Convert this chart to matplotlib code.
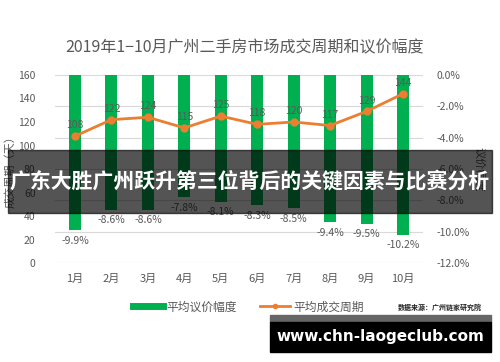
import matplotlib
matplotlib.use("Agg")
import matplotlib.pyplot as plt
from matplotlib.lines import Line2D
from matplotlib.patches import Rectangle

plt.rcParams['font.family'] = ['Noto Sans CJK SC', 'DejaVu Sans']

months = ['1月', '2月', '3月', '4月', '5月', '6月', '7月', '8月', '9月', '10月']
bargain = [-9.9, -8.6, -8.6, -7.8, -8.1, -8.3, -8.5, -9.4, -9.5, -10.2]
cycle = [108, 122, 124, 115, 125, 118, 120, 117, 129, 144]
left_ticks = [0, 20, 40, 60, 80, 100, 120, 140, 160]
right_ticks = [0, -2, -4, -6, -8, -10, -12]

grey = '#595959'
green = '#00B050'
orange = '#ED7D31'

fig = plt.figure(figsize=(5, 3.62), dpi=100)
ax = fig.add_axes([0.11, 0.273, 0.736, 0.52])
ax2 = ax.twinx()
ax.set_zorder(ax2.get_zorder() + 1)
ax.patch.set_visible(False)

x = list(range(len(months)))

# bars hang down from 0% on the right axis
ax2.bar(x, bargain, width=0.33, color=green, zorder=2)
ax2.set_ylim(-12, 0)
ax2.set_yticks(right_ticks)
ax2.set_yticklabels([f'{t:.1f}%' for t in right_ticks])
for xi, v in zip(x, bargain):
    ax2.text(xi, v - 0.35, f'{v}%', ha='center', va='top', fontsize=7.5, color=grey)

ax.plot(x, cycle, color=orange, lw=2.0, marker='o', ms=5, zorder=3)
for xi, v in zip(x, cycle):
    ax.text(xi, v + 5, str(v), ha='center', va='bottom', fontsize=7.5, color=grey)
ax.set_ylim(0, 160)
ax.set_xlim(-0.55, 9.55)
ax.set_yticks(left_ticks)
ax.set_xticks(x)
ax.set_xticklabels(months)

ax2.yaxis.grid(True, color='#d9d9d9', lw=0.8)
ax2.set_axisbelow(True)
for a in (ax, ax2):
    for s in a.spines.values():
        s.set_visible(False)
    a.tick_params(length=0, labelsize=7.5, colors=grey)
ax.tick_params(axis='x', pad=8, labelsize=8)
ax.tick_params(axis='y', pad=14)
ax2.tick_params(axis='y', pad=10)

ax.set_ylabel('成交周期（天）', fontsize=8, color=grey, labelpad=2)
ax2.set_ylabel('议价幅度', fontsize=8, color=grey, rotation=-90, labelpad=10)

fig.text(0.49, 0.868, '2019年1−10月广州二手房市场成交周期和议价幅度',
         ha='center', va='center', fontsize=11.5, color=grey)

handles = [Line2D([], [], color=green, lw=5),
           Line2D([], [], color=orange, lw=2, marker='o', ms=3)]
fig.legend(handles, ['平均议价幅度', '平均成交周期'], loc='center',
           bbox_to_anchor=(0.497, 0.152), ncol=2, frameon=False,
           fontsize=8.5, handlelength=2.5, columnspacing=2.0,
           labelcolor=grey, handletextpad=0.3)
fig.text(0.88, 0.152, '数据来源：广州链家研究院', ha='center', va='center',
         fontsize=5, color='#222222', fontweight='bold')

# overlay banner
fig.patches.append(Rectangle((0.016, 0.412), 0.968, 0.174, transform=fig.transFigure,
                             color='black', alpha=0.67, zorder=10))
fig.text(0.5, 0.5, '广东大胜广州跃升第三位背后的关键因素与比赛分析', ha='center', va='center',
         fontsize=15, color='white', fontweight='bold', zorder=11)

# watermark box
fig.patches.append(Rectangle((0.539, 0.110), 0.443, 0.020, transform=fig.transFigure,
                             color='#666666', zorder=10))
fig.patches.append(Rectangle((0.539, 0.028), 0.443, 0.083, transform=fig.transFigure,
                             color='black', zorder=10))
fig.text(0.76, 0.07, 'www.chn-laogeclub.com', ha='center', va='center',
         fontsize=11, color='white', fontweight='bold', family='DejaVu Sans', zorder=11)

fig.savefig('out.png', dpi=100)
